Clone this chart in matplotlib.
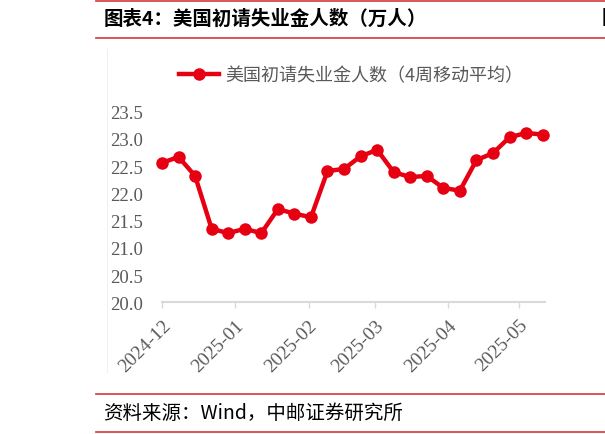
import matplotlib
matplotlib.use('Agg')
import matplotlib.pyplot as plt
import matplotlib.dates as mdates
from matplotlib.lines import Line2D
import pandas as pd

# weekly data, 4-week moving average (10k persons)
dates = pd.date_range('2024-12-01', periods=24, freq='7D')
claims = [22.56, 22.67, 22.32, 21.35, 21.27, 21.35, 21.27, 21.71,
          21.63, 21.56, 22.41, 22.45, 22.68, 22.80, 22.39, 22.30,
          22.32, 22.10, 22.05, 22.61, 22.74, 23.03, 23.11, 23.08]
series_name = '美国初请失业金人数（4周移动平均）'
title = '图表4：美国初请失业金人数（万人）'
source = '资料来源：Wind，中邮证券研究所'
yticks = [20.0, 20.5, 21.0, 21.5, 22.0, 22.5, 23.0, 23.5]

RED = '#e60012'
LINE_RED = '#d9484a'
GRAY = '#595959'
cjk = ['Noto Sans CJK SC', 'DejaVu Sans']
serif = ['Liberation Serif', 'DejaVu Serif']

plt.rcParams['font.family'] = cjk

fig = plt.figure(figsize=(6.05, 4.35), dpi=100)
W, H = 605, 435

# header / footer rules
for y in (1.5, 38.5, 395, 433):
    fig.add_artist(Line2D([96 / W, 1], [1 - y / H, 1 - y / H], color=LINE_RED, lw=1.3))
# faint chart-area border
fig.add_artist(Line2D([107 / W, 107 / W], [1 - 50 / H, 1 - 373 / H], color='#f0f0f0', lw=0.8))

fig.text(104 / W, 1 - 19 / H, title, fontsize=14, fontweight='bold', va='center', ha='left', color='black')
# edge of the neighbouring chart's title
fig.text(602 / W, 1 - 19 / H, '图', fontsize=14, fontweight='bold', va='center', ha='left', color='black')
fig.text(103 / W, 1 - 413 / H, source, fontsize=14, va='center', ha='left', color='black')

ax = fig.add_axes([162 / W, 1 - 303.3 / H, (545 - 162) / W, (303.3 - 112.7) / H])
ax.plot(dates, claims, color=RED, lw=3.2, marker='o', markersize=9,
        markeredgewidth=0, label=series_name, clip_on=False, solid_joinstyle='round')

ax.set_ylim(20.0, 23.5)
ax.set_yticks(yticks)
ax.set_yticklabels([f'{v:.1f}' for v in yticks], fontfamily=serif, fontsize=13.5, color=GRAY)
ax.set_xlim(pd.Timestamp('2024-12-01'), pd.Timestamp('2025-05-12'))
ax.xaxis.set_major_locator(mdates.MonthLocator())
ax.xaxis.set_major_formatter(mdates.DateFormatter('%Y-%m'))
for lab in ax.get_xticklabels():
    lab.set_fontfamily(serif)
    lab.set_fontsize(14)
    lab.set_color(GRAY)
    lab.set_rotation(45)
    lab.set_ha('right')
    lab.set_rotation_mode('anchor')

for s in ('top', 'right', 'left'):
    ax.spines[s].set_visible(False)
ax.spines['bottom'].set_color('#d9d9d9')
ax.spines['bottom'].set_linewidth(1.5)
ax.tick_params(axis='y', length=0, pad=14)
ax.tick_params(axis='x', length=4, width=1, color='#d9d9d9', pad=6)

fig.legend(loc='center', bbox_to_anchor=(0.58, 1 - 76 / H), frameon=False,
           prop={'family': cjk, 'size': 13}, labelcolor=GRAY,
           handlelength=2.2, handletextpad=0.35)

fig.savefig('out.png', dpi=100)
